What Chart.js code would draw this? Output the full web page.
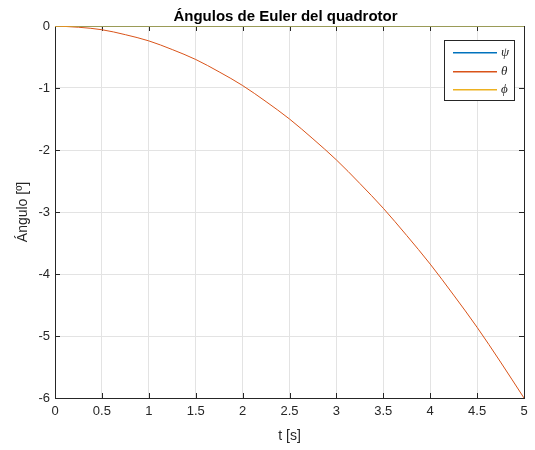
<!DOCTYPE html>
<html>
<head>
<meta charset="utf-8">
<title>Ángulos de Euler</title>
<script src="https://cdn.jsdelivr.net/npm/chart.js@4.4.1/dist/chart.umd.min.js"></script>
<style>
  html, body { margin: 0; padding: 0; background: #fff; }
  #wrap { width: 535px; height: 450px; position: relative; }
</style>
</head>
<body>
<div id="wrap"><canvas id="eulerChart"></canvas></div>
<script>
// tiempo de simulación [s]
const tiempo = [0, 0.25, 0.5, 0.75, 1, 1.25, 1.5, 1.75, 2, 2.25, 2.5, 2.75, 3, 3.25, 3.5, 3.75, 4, 4.25, 4.5, 4.75, 5];
// ángulos [º]
const psi   = [0, 0, 0, 0, 0, 0, 0, 0, 0, 0, 0, 0, 0, 0, 0, 0, 0, 0, 0, 0, 0];
const theta = [0, -0.02, -0.06, -0.14, -0.24, -0.38, -0.54, -0.74, -0.96, -1.22, -1.5, -1.82, -2.16, -2.54, -2.94, -3.38, -3.84, -4.34, -4.86, -5.42, -6];
const phi   = [0, 0, 0, 0, 0, 0, 0, 0, 0, 0, 0, 0, 0, 0, 0, 0, 0, 0, 0, 0, 0];

const xTicks = [0, 0.5, 1, 1.5, 2, 2.5, 3, 3.5, 4, 4.5, 5];
const xTickLabels = ['0', '0.5', '1', '1.5', '2', '2.5', '3', '3.5', '4', '4.5', '5'];
const yTicks = [-6, -5, -4, -3, -2, -1, 0];
const yTickLabels = ['-6', '-5', '-4', '-3', '-2', '-1', '0'];

const titulo = 'Ángulos de Euler del quadrotor';
const leyenda = ['ψ', 'θ', 'ϕ'];
const colores = ['#0072BD', '#D95319', '#EDB120'];

const AXIS = '#262626';
const SANS = '"Liberation Sans", Arial, Helvetica, sans-serif';

const toXY = (vals) => tiempo.map((t, i) => ({ x: t, y: vals[i] }));

// caja de ejes, marcas interiores, título y leyenda estilo MATLAB
const matlabAxes = {
    id: 'matlabAxes',
    beforeDatasetsDraw(chart) {
        const { ctx, chartArea: a, scales: { x, y } } = chart;
        ctx.save();
        ctx.strokeStyle = AXIS;
        ctx.lineWidth = 1;
        ctx.beginPath();
        xTicks.forEach(v => {
            const px = Math.round(x.getPixelForValue(v)) + 0.5;
            ctx.moveTo(px, a.bottom); ctx.lineTo(px, a.bottom - 5);
            ctx.moveTo(px, a.top); ctx.lineTo(px, a.top + 5);
        });
        yTicks.forEach(v => {
            const py = Math.round(y.getPixelForValue(v)) + 0.5;
            ctx.moveTo(a.left, py); ctx.lineTo(a.left + 5, py);
            ctx.moveTo(a.right, py); ctx.lineTo(a.right - 5, py);
        });
        ctx.stroke();
        ctx.strokeRect(Math.round(a.left) + 0.5, Math.round(a.top) + 0.5,
            Math.round(a.right - a.left), Math.round(a.bottom - a.top));
        ctx.restore();
    },
    afterDatasetsDraw(chart) {
        const { ctx, chartArea: a } = chart;
        ctx.save();
        // título
        ctx.fillStyle = '#000';
        ctx.font = 'bold 15px ' + SANS;
        ctx.textAlign = 'center';
        ctx.textBaseline = 'middle';
        ctx.fillText(titulo, (a.left + a.right) / 2 - 4, 17);

        // leyenda
        const bx = 444.5, by = 40.5, bw = 70, bh = 60;
        ctx.fillStyle = '#fff';
        ctx.fillRect(bx, by, bw, bh);
        ctx.strokeStyle = AXIS;
        ctx.lineWidth = 1;
        ctx.strokeRect(bx, by, bw, bh);
        const rows = [52, 71, 89];
        ctx.font = 'italic 13px "Liberation Serif", "DejaVu Serif", serif';
        ctx.textAlign = 'left';
        leyenda.forEach((txt, i) => {
            ctx.fillStyle = colores[i];
            ctx.fillRect(453, rows[i], 44, 1.5);
            ctx.fillStyle = AXIS;
            ctx.fillText(txt, 501, rows[i] + 1);
        });
        ctx.restore();
    }
};

new Chart(document.getElementById('eulerChart'), {
    type: 'line',
    data: {
        datasets: [
            { label: 'ψ', data: toXY(psi), borderColor: colores[0], borderWidth: 2, order: 2 },
            { label: 'θ', data: toXY(theta), borderColor: colores[1], borderWidth: 1, order: 1, cubicInterpolationMode: 'monotone' },
            { label: 'ϕ', data: toXY(phi), borderColor: 'rgba(237, 177, 32, 0.65)', borderWidth: 2, order: 0 }
        ]
    },
    options: {
        responsive: true,
        maintainAspectRatio: false,
        animation: false,
        parsing: false,
        elements: { point: { radius: 0 }, line: { tension: 0 } },
        layout: { padding: { top: 26, right: 11, left: 0, bottom: 0 } },
        plugins: { legend: { display: false }, tooltip: { enabled: false }, title: { display: false } },
        scales: {
            x: {
                type: 'linear', min: 0, max: 5,
                afterBuildTicks: s => { s.ticks = xTicks.map(v => ({ value: v })); },
                afterFit: s => { s.height = 52; },
                grid: { color: '#e3e3e3', drawTicks: false },
                border: { display: false },
                ticks: {
                    color: AXIS, padding: 6, maxRotation: 0, autoSkip: false,
                    font: { family: SANS, size: 13 },
                    callback: (v) => xTickLabels[xTicks.indexOf(v)]
                },
                title: { display: true, text: 't [s]', color: AXIS, font: { family: SANS, size: 14 }, padding: { top: 0, bottom: 5 } }
            },
            y: {
                type: 'linear', min: -6, max: 0,
                afterBuildTicks: s => { s.ticks = yTicks.map(v => ({ value: v })); },
                afterFit: s => { s.width = 55; },
                grid: { color: '#e3e3e3', drawTicks: false },
                border: { display: false },
                ticks: {
                    color: AXIS, padding: 5,
                    font: { family: SANS, size: 13 },
                    callback: (v) => yTickLabels[yTicks.indexOf(v)]
                },
                title: { display: true, text: 'Ángulo [º]', color: AXIS, font: { family: SANS, size: 14 }, padding: { top: 15, bottom: 0 } }
            }
        }
    },
    plugins: [matlabAxes]
});
</script>
</body>
</html>
